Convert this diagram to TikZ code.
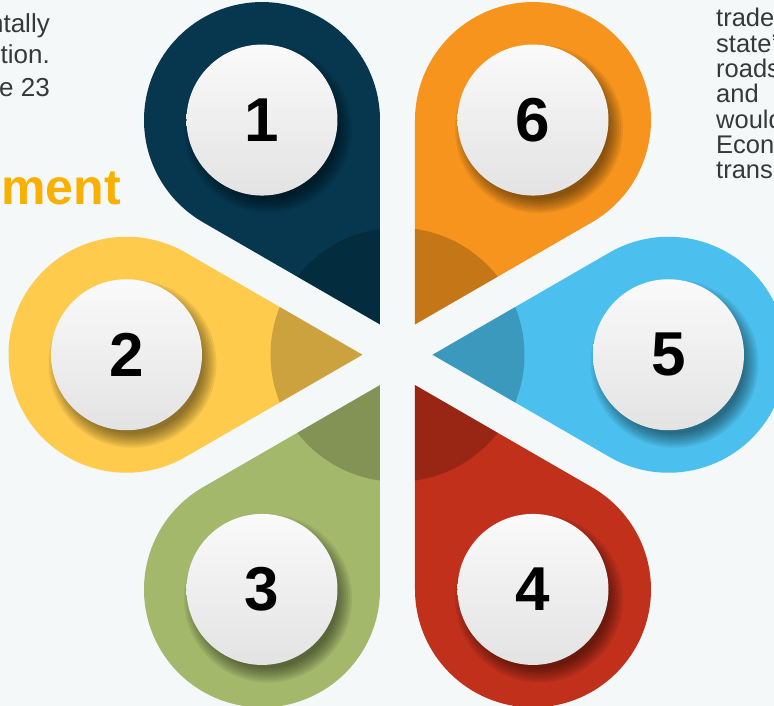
\documentclass[tikz,border=0pt]{standalone}
\usepackage{fontspec}
\setmainfont{Liberation Sans}
\usetikzlibrary{calc}
\definecolor{bgpaper}{HTML}{F4F8F9}
\definecolor{petalnavy}{HTML}{06374F}
\definecolor{petalyellow}{HTML}{FECB4D}
\definecolor{petalgreen}{HTML}{A3B86B}
\definecolor{petalred}{HTML}{C0301B}
\definecolor{petalblue}{HTML}{4BC0EE}
\definecolor{petalorange}{HTML}{F7941D}
\definecolor{bodytext}{HTML}{383838}
\definecolor{headorange}{HTML}{F9B000}

\begin{document}
\begin{tikzpicture}[x=1pt,y=1pt,
    numdisc/.style={circle,minimum size=151pt,inner sep=0pt,top color=white!98!black,bottom color=black!11,font=\bfseries\fontsize{62}{62}\selectfont},
    bodyline/.style={text=bodytext,font=\fontsize{25.5}{25.5}\selectfont,inner sep=0pt}]
\fill[bgpaper] (-397.5,-351.25) rectangle (376.5,354.75);
\useasboundingbox (-397.5,-351.25) rectangle (376.5,354.75);
\foreach \b/\c/\n in {120/petalnavy/1,180/petalyellow/2,240/petalgreen/3,300/petalred/4,0/petalblue/5,60/petalorange/6}{
  \begin{scope}
    \clip (\b:35) -- ($(\b:271)+(\b-120:118)$) arc[start angle=\b-120,end angle=\b+120,radius=118] -- cycle;
    \fill[\c] (\b:271) circle[radius=300];
    \fill[black,opacity=.2] (0,0) circle[radius=127];
    \foreach \s in {0,2,...,14}
      \fill[black,opacity=.065] ($(\b:271)+(6,-9)$) circle[radius=70+\s];
  \end{scope}
  \node[numdisc] (n\n) at (\b:271) {\n};
}
\node[bodyline,anchor=base east,font=\fontsize{26}{26}\selectfont] (leftA) at (-347.5,321.75) {ntally};
\node[bodyline,anchor=base east,font=\fontsize{26}{26}\selectfont] (leftB) at (-347.5,290.75) {tion.};
\node[bodyline,anchor=base east,font=\fontsize{26}{26}\selectfont] (leftC) at (-347.5,257.75) {e 23};
\node[anchor=base east,inner sep=0pt,text=headorange,font=\bfseries\fontsize{50}{50}\selectfont] (headword) at (-276.5,149.75) {ment};
\foreach \w [count=\i] in {trade,state',roads,and,would,Econ,trans}
  \node[bodyline,anchor=base west] (right\i) at (318.5,{327.75-25.3*(\i-1)}) {\w};
\end{tikzpicture}
\end{document}
